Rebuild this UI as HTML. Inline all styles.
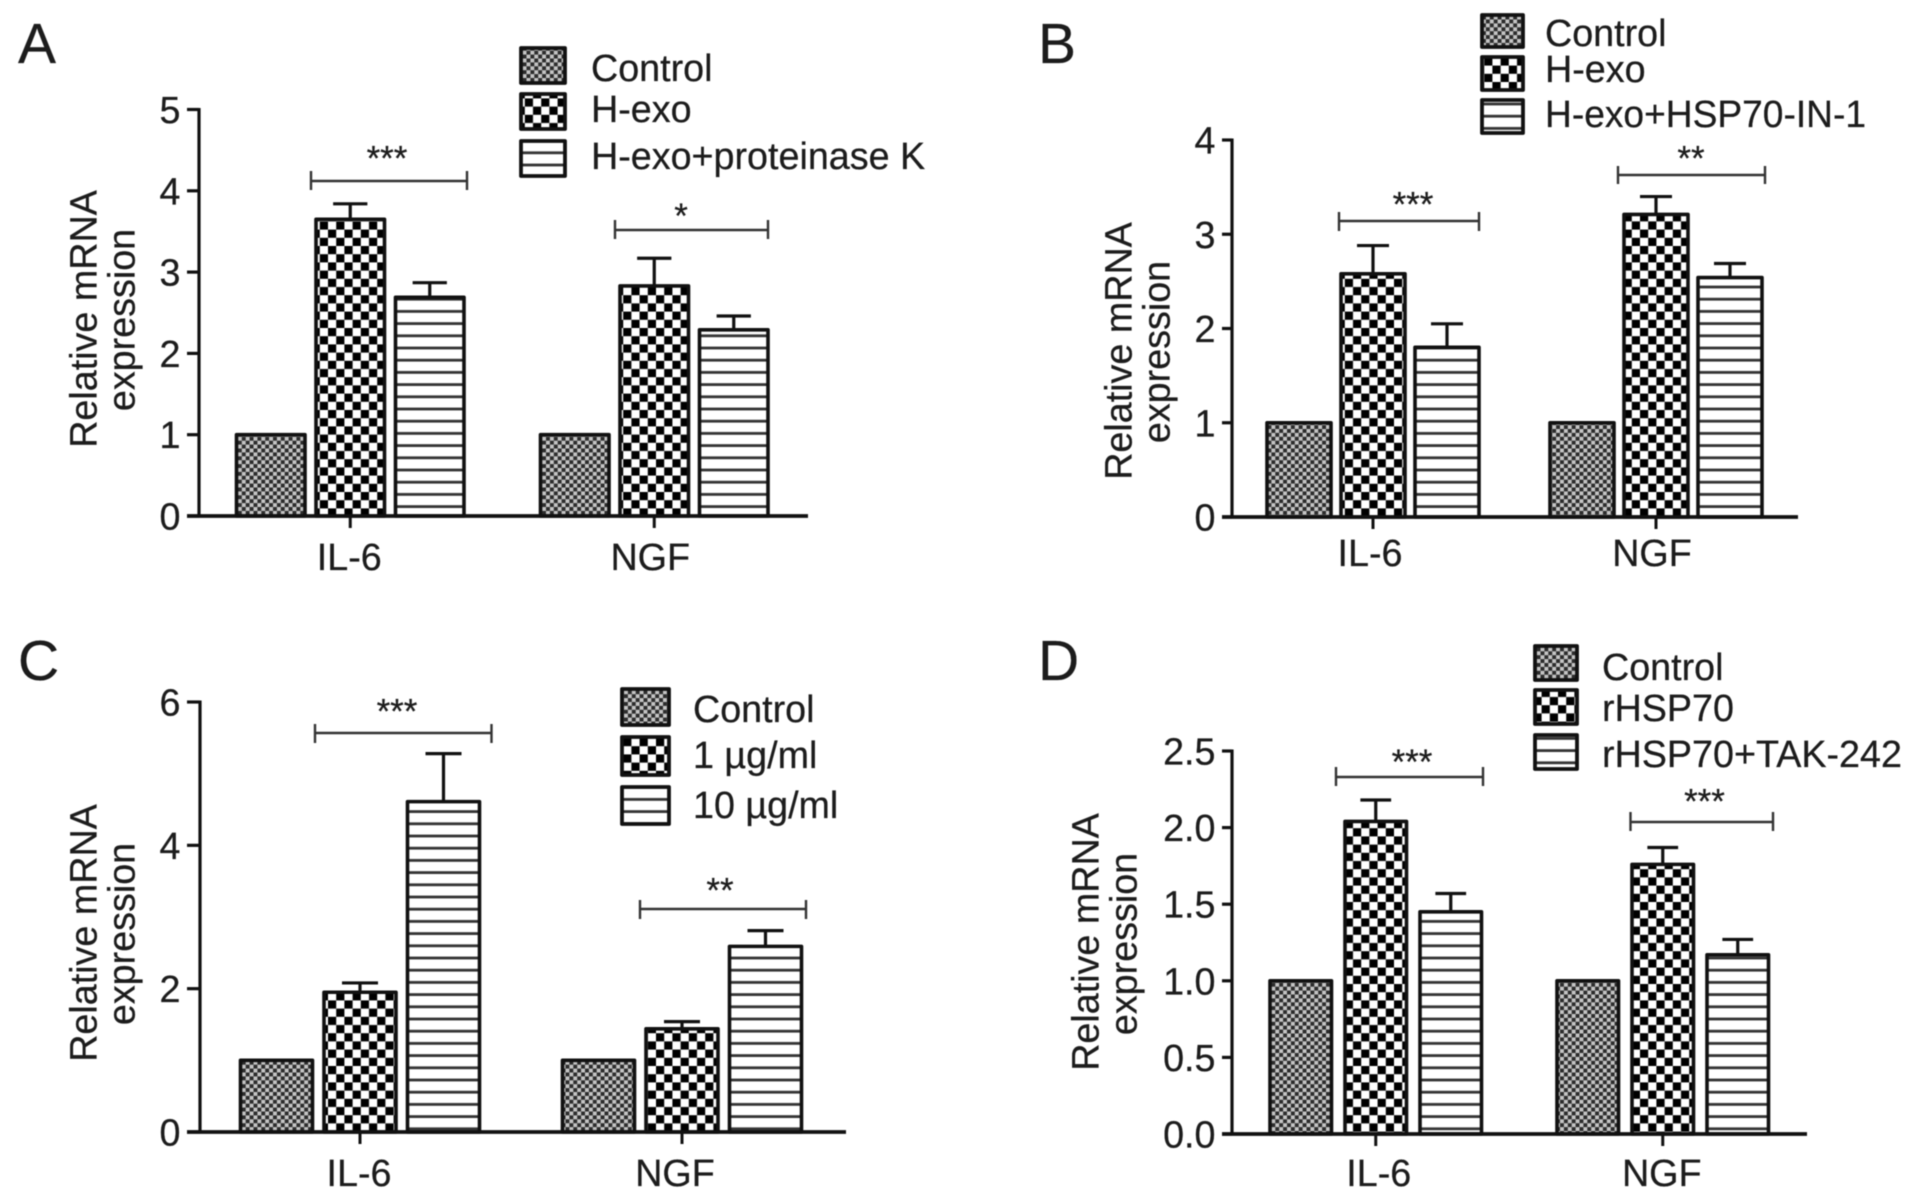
<!DOCTYPE html>
<html lang="en">
<head>
<meta charset="utf-8">
<title>Relative mRNA expression panels</title>
<style>
html,body{margin:0;padding:0;background:#fff;width:1913px;height:1199px;overflow:hidden}
svg{display:block;filter:blur(0.65px)}
text{font-family:"Liberation Sans",sans-serif;fill:#1c1c1c;font-size:37.7px;stroke:#1c1c1c;stroke-width:0.25}
.letter{font-size:57px}
.star{font-size:35px;text-anchor:middle}
.bracket{fill:none;stroke:#333;stroke-width:2.4}
.swatch{stroke:#111;stroke-width:3.8;stroke-linejoin:round}
</style>
</head>
<body>
<svg id="figure" xmlns="http://www.w3.org/2000/svg" width="1913" height="1199" viewBox="0 0 1913 1199">
<defs>
<pattern id="fill-control" width="7.8" height="7.8" patternUnits="userSpaceOnUse">
<rect width="7.8" height="7.8" fill="#c4c4c4"/>
<rect width="3.9" height="3.9" fill="#2c2c2c"/>
<rect x="3.9" y="3.9" width="3.9" height="3.9" fill="#2c2c2c"/>
</pattern>
<pattern id="fill-check" width="16.4" height="16.4" patternUnits="userSpaceOnUse">
<rect width="16.4" height="16.4" fill="#fff"/>
<rect width="8.2" height="8.2" fill="#000"/>
<rect x="8.2" y="8.2" width="8.2" height="8.2" fill="#000"/>
</pattern>
<pattern id="fill-stripe" width="12.2" height="12.2" patternUnits="userSpaceOnUse">
<rect width="12.2" height="12.2" fill="#fff"/>
<rect y="5" width="12.2" height="2.8" fill="#333"/>
</pattern>
</defs>

<text class="letter" x="18" y="63">A</text>
<text class="letter" x="1038" y="63">B</text>
<text class="letter" x="18" y="680">C</text>
<text class="letter" x="1038" y="680">D</text>

<g>
<text transform="translate(96.5 319) rotate(-90)" text-anchor="middle">Relative mRNA</text>
<text transform="translate(134.5 320) rotate(-90)" text-anchor="middle">expression</text>
</g>
<g>
<text transform="translate(1131.5 351) rotate(-90)" text-anchor="middle">Relative mRNA</text>
<text transform="translate(1169.5 352) rotate(-90)" text-anchor="middle">expression</text>
</g>
<g>
<text transform="translate(96.5 933) rotate(-90)" text-anchor="middle">Relative mRNA</text>
<text transform="translate(134.5 934) rotate(-90)" text-anchor="middle">expression</text>
</g>
<g>
<text transform="translate(1098.5 942) rotate(-90)" text-anchor="middle">Relative mRNA</text>
<text transform="translate(1136.5 944) rotate(-90)" text-anchor="middle">expression</text>
</g>

<g>
<rect class="swatch" x="521" y="48" width="44" height="35" fill="url(#fill-control)"/>
<text x="591" y="81">Control</text>
<rect class="swatch" x="521" y="94" width="44" height="35" fill="url(#fill-check)"/>
<text x="591" y="122">H-exo</text>
<rect class="swatch" x="521" y="141" width="44" height="35" fill="url(#fill-stripe)"/>
<text x="591" y="169">H-exo+proteinase K</text>
</g>
<g>
<rect class="swatch" x="1482" y="15" width="41" height="32" fill="url(#fill-control)"/>
<text x="1545" y="46">Control</text>
<rect class="swatch" x="1482" y="57" width="41" height="33" fill="url(#fill-check)"/>
<text x="1545" y="82">H-exo</text>
<rect class="swatch" x="1482" y="100" width="41" height="33" fill="url(#fill-stripe)"/>
<text x="1545" y="127" textLength="321" lengthAdjust="spacingAndGlyphs">H-exo+HSP70-IN-1</text>
</g>
<g>
<rect class="swatch" x="622" y="689" width="47" height="36" fill="url(#fill-control)"/>
<text x="693" y="722">Control</text>
<rect class="swatch" x="622" y="737" width="47" height="38" fill="url(#fill-check)"/>
<text x="693" y="768">1 µg/ml</text>
<rect class="swatch" x="622" y="787" width="47" height="37" fill="url(#fill-stripe)"/>
<text x="693" y="818">10 µg/ml</text>
</g>
<g>
<rect class="swatch" x="1535" y="646" width="42" height="34" fill="url(#fill-control)"/>
<text x="1602" y="680">Control</text>
<rect class="swatch" x="1535" y="690" width="42" height="34" fill="url(#fill-check)"/>
<text x="1602" y="721">rHSP70</text>
<rect class="swatch" x="1535" y="735" width="42" height="34" fill="url(#fill-stripe)"/>
<text x="1602" y="767">rHSP70+TAK-242</text>
</g>

<g>
<path class="bracket" d="M311 171V190M311 181H467M467 171V190"/>
<text class="star" x="387" y="170.5">***</text>
<path class="bracket" d="M615 220V239M615 230H768M768 220V239"/>
<text class="star" x="681" y="228">*</text>
<path class="bracket" d="M1339 212V231M1339 221H1479M1479 212V231"/>
<text class="star" x="1413" y="216.5">***</text>
<path class="bracket" d="M1618 166V184M1618 175H1765M1765 166V184"/>
<text class="star" x="1691" y="170.5">**</text>
<path class="bracket" d="M315 724V743M315 733H491.5M491.5 724V743"/>
<text class="star" x="397" y="723.5">***</text>
<path class="bracket" d="M640 900V919M640 909H806M806 900V919"/>
<text class="star" x="720" y="902.5">**</text>
<path class="bracket" d="M1336 767V786M1336 777H1483M1483 767V786"/>
<text class="star" x="1412" y="774">***</text>
<path class="bracket" d="M1630.5 812V831M1630.5 822H1773M1773 812V831"/>
<text class="star" x="1704.5" y="813.5">***</text>
</g>
</svg>

<script>
const categories = ['IL-6', 'NGF'];

const panelATicks = [0, 1, 2, 3, 4, 5];
const panelATickLabels = ['0', '1', '2', '3', '4', '5'];
const panelAControl = [1, 1];
const panelAControlTop = [1, 1];
const panelAExosome = [3.65, 2.83];
const panelAExosomeTop = [3.84, 3.17];
const panelAInhibited = [2.69, 2.29];
const panelAInhibitedTop = [2.87, 2.46];

const panelBTicks = [0, 1, 2, 3, 4];
const panelBTickLabels = ['0', '1', '2', '3', '4'];
const panelBControl = [1, 1];
const panelBControlTop = [1, 1];
const panelBExosome = [2.58, 3.21];
const panelBExosomeTop = [2.88, 3.40];
const panelBInhibited = [1.80, 2.54];
const panelBInhibitedTop = [2.05, 2.69];

const panelCTicks = [0, 2, 4, 6];
const panelCTickLabels = ['0', '2', '4', '6'];
const panelCControl = [1, 1];
const panelCControlTop = [1, 1];
const panelCLowDose = [1.95, 1.44];
const panelCLowDoseTop = [2.08, 1.54];
const panelCHighDose = [4.61, 2.59];
const panelCHighDoseTop = [5.28, 2.81];

const panelDTicks = [0, 0.5, 1, 1.5, 2, 2.5];
const panelDTickLabels = ['0.0', '0.5', '1.0', '1.5', '2.0', '2.5'];
const panelDControl = [1, 1];
const panelDControlTop = [1, 1];
const panelDProtein = [2.04, 1.76];
const panelDProteinTop = [2.18, 1.87];
const panelDBlocked = [1.45, 1.17];
const panelDBlockedTop = [1.57, 1.27];

const fills = ['url(#fill-control)', 'url(#fill-check)', 'url(#fill-stripe)'];
const seriesNames = ['control', 'treatment', 'combination'];
const NS = 'http://www.w3.org/2000/svg';
const figure = document.getElementById('figure');

function shape(parent, tag, attrs) {
  const el = document.createElementNS(NS, tag);
  for (const k in attrs) el.setAttribute(k, attrs[k]);
  parent.appendChild(el);
  return el;
}

function drawPanel(p) {
  const yScale = v => p.y0 - (v / p.yMax) * (p.y0 - p.yTop);
  const barX = (g, s) => p.left + g * p.groupStep + s * p.barStep;

  const group = shape(figure, 'g', {});
  
  

  p.series.forEach((values, s) => {
    values.forEach((v, g) => {
      const x = barX(g, s);
      const cx = x + p.barWidth / 2;
      const top = p.tops[s][g];
      if (top > v) {
        const err = shape(group, 'path', {
          d: 'M' + cx + ' ' + yScale(v) + 'V' + yScale(top) + 'M' + (cx - p.barWidth / 4) + ' ' + yScale(top) + 'H' + (cx + p.barWidth / 4),
          fill: 'none', stroke: '#111', 'stroke-width': 3.2
        });
        
        
      }
      const bar = shape(group, 'rect', {
        x: x, y: yScale(v), width: p.barWidth, height: p.y0 - yScale(v),
        fill: fills[s], stroke: '#111', 'stroke-width': 3.6, 'stroke-linejoin': 'round'
      });
      
      
    });
  });

  const yAxis = shape(group, 'line', {x1: p.axisX, x2: p.axisX, y1: p.yTop - 1.5, y2: p.y0, stroke: '#111', 'stroke-width': 3.2});
  
  

  const xAxis = shape(group, 'line', {x1: p.axisStart, x2: p.axisEnd, y1: p.y0, y2: p.y0, stroke: '#111', 'stroke-width': 3.8});
  
  

  p.ticks.forEach((t, i) => {
    const tick = shape(group, 'line', {x1: p.axisStart, x2: p.axisX, y1: yScale(t), y2: yScale(t), stroke: '#111', 'stroke-width': 3.2});
    
    
    const label = shape(group, 'text', {x: p.axisStart - 6.5, y: yScale(t) + 13.5, 'text-anchor': 'end'});
    label.textContent = p.tickLabels[i];
    
    
  });

  categories.forEach((c, g) => {
    const cx = barX(g, 1) + p.barWidth / 2;
    const tick = shape(group, 'line', {x1: cx, x2: cx, y1: p.y0, y2: p.y0 + 12, stroke: '#111', 'stroke-width': 3});
    
    
    const label = shape(group, 'text', {x: cx + p.labelShift[g], y: p.labelY, 'text-anchor': 'middle'});
    label.textContent = c;
    
    
  });
}

drawPanel({
  id: 'a', axisX: 199, axisStart: 187, axisEnd: 808, y0: 516, yTop: 109.5, yMax: 5,
  left: 236.5, barWidth: 68.5, barStep: 79.5, groupStep: 304, labelY: 570, labelShift: [-1, -4],
  ticks: panelATicks, tickLabels: panelATickLabels,
  series: [panelAControl, panelAExosome, panelAInhibited],
  tops: [panelAControlTop, panelAExosomeTop, panelAInhibitedTop]
});
drawPanel({
  id: 'b', axisX: 1232, axisStart: 1222, axisEnd: 1798, y0: 517, yTop: 140, yMax: 4,
  left: 1267, barWidth: 64, barStep: 74, groupStep: 283, labelY: 566, labelShift: [-3, -4],
  ticks: panelBTicks, tickLabels: panelBTickLabels,
  series: [panelBControl, panelBExosome, panelBInhibited],
  tops: [panelBControlTop, panelBExosomeTop, panelBInhibitedTop]
});
drawPanel({
  id: 'c', axisX: 200, axisStart: 187, axisEnd: 846, y0: 1132, yTop: 702, yMax: 6,
  left: 240.5, barWidth: 72, barStep: 83.5, groupStep: 322, labelY: 1186, labelShift: [-1, -7],
  ticks: panelCTicks, tickLabels: panelCTickLabels,
  series: [panelCControl, panelCLowDose, panelCHighDose],
  tops: [panelCControlTop, panelCLowDoseTop, panelCHighDoseTop]
});
drawPanel({
  id: 'd', axisX: 1232, axisStart: 1222, axisEnd: 1807, y0: 1134, yTop: 751, yMax: 2.5,
  left: 1270, barWidth: 61.5, barStep: 75, groupStep: 287, labelY: 1186, labelShift: [3, -1],
  ticks: panelDTicks, tickLabels: panelDTickLabels,
  series: [panelDControl, panelDProtein, panelDBlocked],
  tops: [panelDControlTop, panelDProteinTop, panelDBlockedTop]
});
</script>
</body>
</html>
